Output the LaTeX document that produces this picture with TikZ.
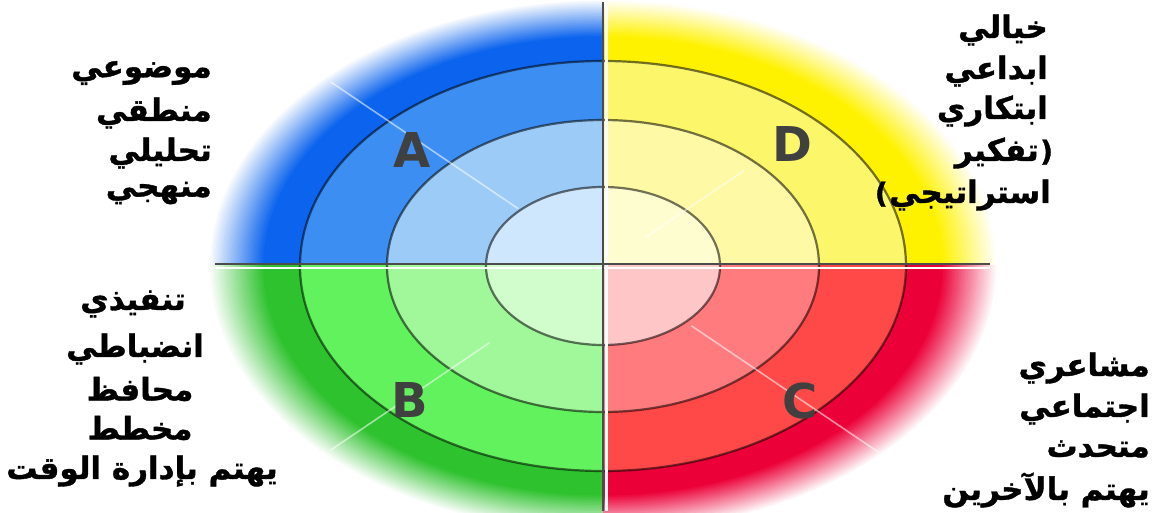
\documentclass[tikz,border=0pt]{standalone}
\usepackage{fontspec}
\newfontfamily\arabicfont[Script=Arabic, BoldFeatures={FakeBold=1.2}]{DejaVu Sans}
\newfontfamily\letterfont{DejaVu Sans}
\newfontfamily\parenfont[BoldFeatures={FakeBold=1.2}]{DejaVu Sans}
\TeXXeTstate=1

\definecolor{glowA}{HTML}{0B63EE}
\definecolor{outA}{HTML}{3C8EF2}
\definecolor{midA}{HTML}{9DCBF7}
\definecolor{inA}{HTML}{CFE7FC}
\definecolor{glowD}{HTML}{FFF200}
\definecolor{outD}{HTML}{FBF66A}
\definecolor{midD}{HTML}{FDF9A5}
\definecolor{inD}{HTML}{FEFDD0}
\definecolor{glowB}{HTML}{2EC22E}
\definecolor{outB}{HTML}{62F25D}
\definecolor{midB}{HTML}{A0F89A}
\definecolor{inB}{HTML}{D0FDCB}
\definecolor{glowC}{HTML}{EC0038}
\definecolor{outC}{HTML}{FF4848}
\definecolor{midC}{HTML}{FF7B7E}
\definecolor{inC}{HTML}{FFC6C8}

\newcommand\quadfill[5]{%
  \begin{scope}
    \clip #1;
    \foreach \i in {40,39,...,0}{
      \pgfmathsetmacro\rx{303+2.3*\i}
      \pgfmathsetmacro\pp{\i<=16 ? 100 : 100*(40-\i)/24}
      \fill[#2!\pp!white] (O) ellipse [x radius=\rx, y radius=\rx/1.48];
    }
    \fill[#3] (O) ellipse [x radius=303, y radius=205];
    \fill[#4] (O) ellipse [x radius=216, y radius=146];
    \fill[#5] (O) ellipse [x radius=117, y radius=79];
  \end{scope}}

\tikzset{
  ringline/.style={draw=black, draw opacity=0.55, line width=2.2},
  diagline/.style={draw=white, draw opacity=0.55, line width=1.6},
  lbl/.style={font=\arabicfont\bfseries\fontsize{31}{34}\selectfont, text=black, inner sep=0pt},
  parenlbl/.style={font=\parenfont\bfseries\fontsize{28}{34}\selectfont, text=black, inner sep=0pt},
  quadletter/.style={font=\letterfont\bfseries\fontsize{48}{50}\selectfont, text=black!75, inner sep=0pt}
}

\begin{document}
\begin{tikzpicture}[x=1pt,y=-1pt]
\useasboundingbox (0,0) rectangle (1157,513);
\fill[white] (0,0) rectangle (1157,513);
\coordinate (O) at (603,266);
\begin{scope}
  \clip (0,0) rectangle (1157,513);
  \quadfill{(0,0) rectangle (603,266)}{glowA}{outA}{midA}{inA}
  \quadfill{(603,0) rectangle (1157,266)}{glowD}{outD}{midD}{inD}
  \quadfill{(0,266) rectangle (603,513)}{glowB}{outB}{midB}{inB}
  \quadfill{(603,266) rectangle (1157,513)}{glowC}{outC}{midC}{inC}
  \draw[ringline] (O) ellipse [x radius=303, y radius=205];
  \draw[ringline] (O) ellipse [x radius=216, y radius=146];
  \draw[ringline] (O) ellipse [x radius=117, y radius=79];
  \begin{scope}[shift={(O)}, yscale=0.676]
    \draw[diagline] (225:120) -- (225:385);
    \draw[diagline] (315:60) -- (315:200);
    \draw[diagline] (135:160) -- (135:385);
    \draw[diagline] (45:125) -- (45:390);
  \end{scope}
  % dividers
  \draw[white, line width=2.5] (215,268) -- (990,268);
  \draw[white, line width=2.5] (606.5,2) -- (606.5,511);
  \draw[black!70, line width=2.6] (215,264) -- (990,264);
  \draw[black!70, line width=2.6] (603,2) -- (603,511);
\end{scope}

\node[quadletter] (A) at (412,150) {A};
\node[quadletter] (D) at (792,144) {D};
\node[quadletter] (B) at (410,400) {B};
\node[quadletter] (C) at (800,401) {C};

\node[lbl, anchor=east] (a1) at (212,73) {\beginR موضوعي\endR};
\node[lbl, anchor=east] (a2) at (212,113) {\beginR منطقي\endR};
\node[lbl, anchor=east] (a3) at (212,153) {\beginR تحليلي\endR};
\node[lbl, anchor=east] (a4) at (212,193) {\beginR منهجي\endR};

\node[lbl, anchor=east] (d1) at (1048,30) {\beginR خيالي\endR};
\node[lbl, anchor=east] (d2) at (1048,71) {\beginR ابداعي\endR};
\node[lbl, anchor=east] (d3) at (1048,111) {\beginR ابتكاري\endR};
\node[lbl, anchor=east] (d4) at (1039,153) {\beginR تفكير\endR};
\node[parenlbl, anchor=base west] (d4p) at ([xshift=1pt]d4.base east) {)};
\node[lbl, anchor=east] (d5) at (1051,195) {\beginR استراتيجي\endR};
\node[parenlbl, anchor=base east] (d5p) at ([xshift=-1pt]d5.base west) {(};

\node[lbl] (b1) at (133,304) {\beginR تنفيذي\endR};
\node[lbl] (b2) at (135,349) {\beginR انضباطي\endR};
\node[lbl] (b3) at (140,389) {\beginR محافظ\endR};
\node[lbl] (b4) at (140,428) {\beginR مخطط\endR};
\node[lbl] (b5) at (142,471) {\beginR يهتم بإدارة الوقت\endR};

\node[lbl, anchor=east] (c1) at (1150,368) {\beginR مشاعري\endR};
\node[lbl, anchor=east] (c2) at (1150,409) {\beginR اجتماعي\endR};
\node[lbl, anchor=east] (c3) at (1150,449) {\beginR متحدث\endR};
\node[lbl, anchor=east] (c4) at (1150,490) {\beginR يهتم بالآخرين\endR};
\end{tikzpicture}
\end{document}
